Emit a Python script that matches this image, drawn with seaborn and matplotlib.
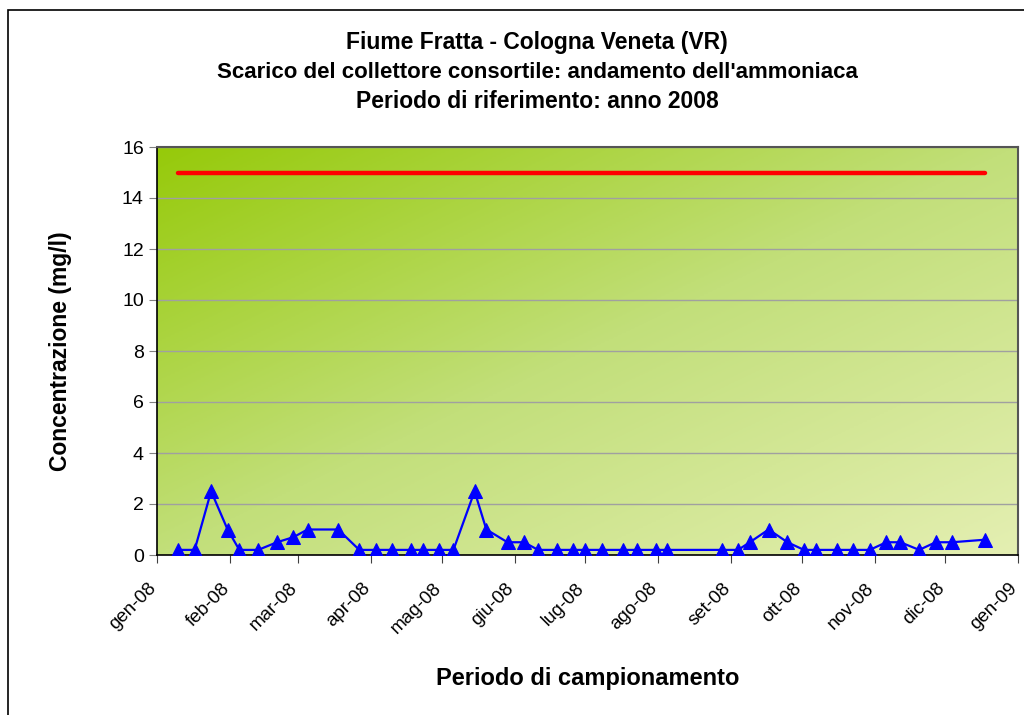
import numpy as np
import pandas as pd
import matplotlib
matplotlib.use("Agg")
import matplotlib.pyplot as plt
import matplotlib.transforms as mtransforms
from matplotlib.colors import LinearSegmentedColormap
from matplotlib.patches import Rectangle
import seaborn as sns

# Data
sample_dates = [
    "2008-01-10", "2008-01-17", "2008-01-24", "2008-01-31", "2008-02-05", "2008-02-13",
    "2008-02-21", "2008-02-28", "2008-03-05", "2008-03-18", "2008-03-27", "2008-04-03",
    "2008-04-10", "2008-04-18", "2008-04-23", "2008-04-30", "2008-05-06", "2008-05-15",
    "2008-05-20", "2008-05-29", "2008-06-05", "2008-06-11", "2008-06-19", "2008-06-26",
    "2008-07-01", "2008-07-08", "2008-07-17", "2008-07-23", "2008-07-31", "2008-08-05",
    "2008-08-28", "2008-09-04", "2008-09-09", "2008-09-17", "2008-09-25", "2008-10-02",
    "2008-10-07", "2008-10-16", "2008-10-23", "2008-10-30", "2008-11-06", "2008-11-12",
    "2008-11-20", "2008-11-27", "2008-12-04", "2008-12-18",
]
ammonia = [
    0.2, 0.2, 2.5, 1.0, 0.2, 0.2,
    0.5, 0.7, 1.0, 1.0, 0.2, 0.2,
    0.2, 0.2, 0.2, 0.2, 0.2, 2.5,
    1.0, 0.5, 0.5, 0.2, 0.2, 0.2,
    0.2, 0.2, 0.2, 0.2, 0.2, 0.2,
    0.2, 0.2, 0.5, 1.0, 0.5, 0.2,
    0.2, 0.2, 0.2, 0.2, 0.5, 0.5,
    0.2, 0.5, 0.5, 0.6,
]
limit_value = 15
month_labels = ["gen-08", "feb-08", "mar-08", "apr-08", "mag-08", "giu-08", "lug-08",
                "ago-08", "set-08", "ott-08", "nov-08", "dic-08", "gen-09"]

df = pd.DataFrame({"Data": pd.to_datetime(sample_dates), "Ammoniaca": ammonia})
df["Limite"] = limit_value

sns.set_style("white")
plt.rcParams["font.family"] = ["Liberation Sans", "DejaVu Sans"]
plt.rcParams["text.color"] = "black"
plt.rcParams["axes.labelcolor"] = "black"
plt.rcParams["xtick.color"] = "black"
plt.rcParams["ytick.color"] = "black"

fig = plt.figure(figsize=(10.24, 7.15), dpi=100)
ax = fig.add_axes([157 / 1024, 1 - 555 / 715, 861 / 1024, 408 / 715])

# Gradient background of plot area (green top-left -> pale bottom-right)
cmap = LinearSegmentedColormap.from_list("bg", ["#96ca0a", "#c2df7a", "#e4efb2"])
xx, yy = np.meshgrid(np.linspace(0, 1, 200), np.linspace(0, 1, 200))
grad = (xx + yy) / 2
ax.imshow(grad, cmap=cmap, extent=[0, 1, 0, 1], transform=ax.transAxes,
          aspect="auto", origin="upper", zorder=0)

sns.lineplot(data=df, x="Data", y="Limite", color="#ff0000", linewidth=3.2, ax=ax, zorder=3)
sns.lineplot(data=df, x="Data", y="Ammoniaca", color="#0000ff", linewidth=1.6,
             marker="^", markersize=10, markeredgecolor="#0000ff", ax=ax, zorder=4)

ax.set_xlim(pd.Timestamp("2008-01-01"), pd.Timestamp("2009-01-01"))
ax.set_ylim(0, 16)
ax.set_yticks(np.arange(0, 17, 2))
ax.tick_params(axis="y", labelsize=14, length=6, color="#808080", direction="out", left=True)
ax.tick_params(axis="x", length=6, color="#404040", direction="out", bottom=True, pad=6)

month_ticks = pd.date_range("2008-01-01", "2009-01-01", freq="MS")
ax.set_xticks(month_ticks)
ax.set_xticklabels(month_labels, rotation=45, ha="right", rotation_mode="anchor", fontsize=13.5)
shift = mtransforms.ScaledTranslation(-9 / 100, -8 / 100, fig.dpi_scale_trans)
for lbl in ax.get_xticklabels():
    lbl.set_transform(lbl.get_transform() + shift)

ax.grid(axis="y", color="#a0a0a0", linewidth=1, zorder=1)
ax.set_axisbelow(True)
for side in ["top", "right"]:
    ax.spines[side].set_color("#555555")
    ax.spines[side].set_linewidth(1.5)
for side in ["left", "bottom"]:
    ax.spines[side].set_color("#000000")
    ax.spines[side].set_linewidth(1.2)

ax.set_xlabel("Periodo di campionamento", fontsize=17, fontweight="bold", labelpad=22)
ax.set_ylabel("Concentrazione (mg/l)", fontsize=16.5, fontweight="bold", labelpad=36)

title_x = 537 / 1024
fig.text(title_x, 1 - 42 / 715, "Fiume Fratta - Cologna Veneta (VR)", ha="center", va="center",
         fontsize=16.5, fontweight="bold")
fig.text(title_x, 1 - 72 / 715, "Scarico del collettore consortile: andamento dell'ammoniaca",
         ha="center", va="center", fontsize=16, fontweight="bold")
fig.text(title_x, 1 - 102 / 715, "Periodo di riferimento: anno 2008", ha="center", va="center",
         fontsize=16.5, fontweight="bold")

# Outer chart frame
fig.patches.append(Rectangle((8 / 1024, -0.05), 1.2, 1 - 10 / 715 + 0.05,
                             transform=fig.transFigure, fill=False,
                             edgecolor="#000000", linewidth=1.2))

fig.savefig("out.png", dpi=100)
